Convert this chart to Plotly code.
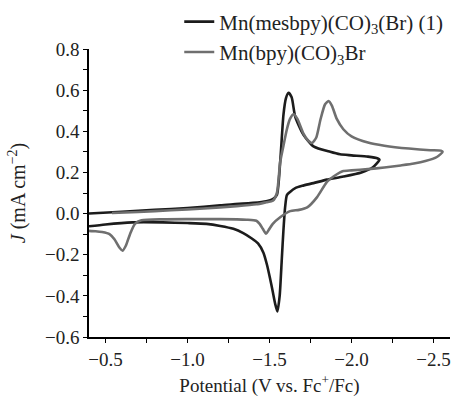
import plotly.graph_objects as go

# Mn(mesbpy)(CO)3(Br) (1) — scan order
black_x = [-0.40, -0.60, -0.80, -1.00, -1.20, -1.40, -1.48, -1.52, -1.545, -1.565, -1.585, -1.60,
           -1.616, -1.635, -1.657, -1.706, -1.768, -1.87, -1.93, -2.00, -2.10, -2.16,
           -2.17, -2.13, -2.06, -1.95, -1.85, -1.768, -1.70, -1.657, -1.625, -1.606, -1.595,
           -1.585, -1.575, -1.562, -1.548, -1.535, -1.52, -1.504, -1.485, -1.463, -1.43, -1.39,
           -1.34, -1.28, -1.20, -1.116, -1.00, -0.85, -0.665, -0.50, -0.40]
black_y = [0.000, 0.009, 0.018, 0.027, 0.040, 0.052, 0.060, 0.070, 0.090, 0.25, 0.48, 0.56,
           0.587, 0.565, 0.47, 0.384, 0.327, 0.300, 0.288, 0.283, 0.277, 0.268,
           0.262, 0.225, 0.200, 0.180, 0.165, 0.148, 0.135, 0.124, 0.105, 0.090, 0.030,
           -0.08, -0.22, -0.40, -0.476, -0.44, -0.38, -0.318, -0.25, -0.19, -0.145, -0.12,
           -0.095, -0.074, -0.060, -0.050, -0.046, -0.043, -0.043, -0.053, -0.062]

# Mn(bpy)(CO)3Br — scan order
gray_x = [-0.54, -0.70, -0.90, -1.10, -1.30, -1.42, -1.48, -1.52, -1.545, -1.565, -1.585, -1.606,
          -1.625, -1.647, -1.67, -1.706, -1.735, -1.759, -1.785, -1.81, -1.838, -1.86, -1.88,
          -1.91, -1.95, -2.00, -2.10, -2.20, -2.35, -2.48, -2.545,
          -2.555, -2.52, -2.45, -2.38, -2.30, -2.20, -2.10, -2.00, -1.95, -1.93, -1.89, -1.85,
          -1.79, -1.73, -1.68, -1.626, -1.565, -1.52, -1.495, -1.479, -1.46, -1.44, -1.42,
          -1.36, -1.20, -1.00, -0.85, -0.72, -0.68, -0.65, -0.625, -0.605, -0.585, -0.555,
          -0.525, -0.48, -0.44, -0.40]
gray_y = [0.003, 0.008, 0.016, 0.025, 0.036, 0.045, 0.055, 0.062, 0.10, 0.25, 0.33, 0.41,
          0.46, 0.483, 0.46, 0.39, 0.355, 0.343, 0.37, 0.455, 0.53, 0.547, 0.525,
          0.46, 0.41, 0.375, 0.345, 0.330, 0.316, 0.308, 0.306,
          0.300, 0.275, 0.255, 0.243, 0.234, 0.224, 0.216, 0.210, 0.207, 0.200, 0.180, 0.154,
          0.080, 0.030, 0.018, 0.012, -0.018, -0.050, -0.080, -0.098, -0.075, -0.050, -0.035,
          -0.030, -0.027, -0.027, -0.028, -0.033, -0.050, -0.10, -0.155, -0.180, -0.165, -0.125,
          -0.100, -0.090, -0.086, -0.084]

series_names = ["Mn(mesbpy)(CO)<sub>3</sub>(Br) (1)", "Mn(bpy)(CO)<sub>3</sub>Br"]
x_ticks = [-0.5, -1.0, -1.5, -2.0, -2.5]
x_ticklabels = ["\u22120.5", "\u22121.0", "\u22121.5", "\u22122.0", "\u22122.5"]
y_ticks = [-0.6, -0.4, -0.2, 0.0, 0.2, 0.4, 0.6, 0.8]
y_ticklabels = ["\u22120.6", "\u22120.4", "\u22120.2", "0.0", "0.2", "0.4", "0.6", "0.8"]

FONT = "Liberation Serif"
TXT = "#222"

fig = go.Figure()
fig.add_trace(go.Scatter(x=black_x, y=black_y, mode="lines", name=series_names[0],
                         legendgroup="a",
                         line=dict(color="#1c1c1c", width=2.6, shape="spline", smoothing=0.6)))
fig.add_trace(go.Scatter(x=gray_x, y=gray_y, mode="lines", name=series_names[1],
                         legendgroup="b",
                         line=dict(color="#6f6f6f", width=2.6, shape="spline", smoothing=0.6)))


def axis(minor_dtick, **kw):
    d = dict(showline=True, linecolor="black", linewidth=1.5, ticks="outside",
             ticklen=4, tickwidth=1.2, tickcolor="black", showgrid=False, zeroline=False,
             automargin=False,
             tickfont=dict(family=FONT, size=19, color=TXT),
             minor=dict(ticks="outside", ticklen=4, tickwidth=1.2, tickcolor="black",
                        dtick=minor_dtick, tick0=0))
    d.update(kw)
    return d


fig.update_layout(
    width=452, height=397,
    margin=dict(l=89, r=2, t=41, b=60),
    paper_bgcolor="white", plot_bgcolor="white",
    font=dict(family=FONT, size=19, color=TXT),
    showlegend=True,
    legend=dict(x=0.25, y=1.165, xanchor="left", yanchor="top", bgcolor="rgba(0,0,0,0)",
                font=dict(family=FONT, size=21, color=TXT), tracegroupgap=0),
    xaxis=axis(0.25, range=[-0.4, -2.6], tickvals=x_ticks, ticktext=x_ticklabels,
               title=dict(text="Potential (V vs. Fc<sup>+</sup>/Fc)", standoff=11,
                          font=dict(family=FONT, size=19, color=TXT))),
    yaxis=axis(0.1, range=[-0.6, 0.8], tickvals=y_ticks, ticktext=y_ticklabels,
               title=dict(text="<i>J</i> (mA cm<sup>\u22122</sup>)", standoff=14,
                          font=dict(family=FONT, size=20, color=TXT))),
)

# remove the default page margin so the figure sits at the window's top-left corner
fig.write_html("out.html", config={"displayModeBar": False},
               post_script="document.body.style.margin='0';document.body.style.overflow='hidden';")
